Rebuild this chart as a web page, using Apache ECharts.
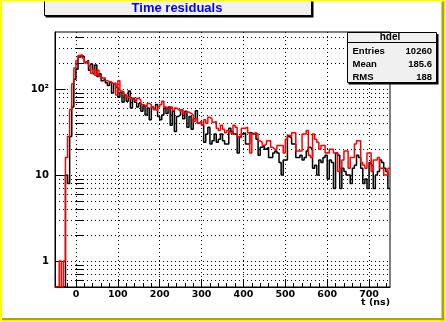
<!DOCTYPE html>
<html>
<head>
    <meta charset="utf-8">
    <title>Time residuals</title>
    <style type="text/css">
        html, body { margin: 0; padding: 0; }
        #main { width: 446px; height: 322px; }
    </style>
</head>
<body>
<div id="main"></div>
<script type="text/javascript" src="https://cdn.jsdelivr.net/npm/echarts@6/dist/echarts.min.js"></script>
<script type="text/javascript">
    // histogram binning: 160 bins of 5 ns from -50 to 750
    var binLow = -50;
    var binWidth = 5;

    // black histogram, counts per bin
    var black = [
        0, 0, 0, 0, 0, 10, 8, 28, 62, 130, 170, 235, 245, 238, 205, 215, 165, 195, 150, 190,
        140, 150, 125, 130, 118, 110, 120, 90, 115, 105, 80, 92, 70, 85, 72, 95, 60, 78, 70, 62,
        68, 55, 64, 50, 60, 44, 62, 58, 66, 48, 44, 50, 60, 52, 62, 38, 55, 32, 48, 50,
        57, 45, 55, 36, 48, 34, 45, 56, 40, 42, 38, 24, 30, 36, 23, 25, 30, 24, 26, 30,
        25, 23, 23, 35, 32, 30, 30, 18, 28, 30, 31, 23, 23, 31, 30, 31, 26, 17, 21, 22,
        20, 21, 16, 16, 18, 19, 18, 14, 10, 15, 15, 28, 27, 23, 23, 16, 16, 17, 15, 16,
        19, 21, 20, 12, 13, 10, 15, 14, 16, 17, 9, 15, 14, 7, 18, 17, 7, 12, 11, 10,
        10, 8, 12, 13, 17, 16, 12, 8, 9, 7, 14, 13, 7, 10, 11, 15, 14, 12, 11, 7
    ];

    // red histogram, counts per bin
    var red = [
        0, 0, 1, 0, 1, 16, 28, 58, 115, 175, 215, 245, 250, 228, 200, 210, 185, 153, 170, 145,
        165, 140, 133, 135, 125, 122, 120, 115, 118, 85, 125, 95, 92, 86, 80, 84, 77, 75, 73, 78,
        75, 66, 65, 62, 68, 66, 62, 58, 56, 62, 66, 72, 62, 60, 58, 62, 56, 60, 58, 55,
        58, 52, 54, 54, 52, 50, 42, 45, 40, 42, 38, 44, 40, 47, 45, 41, 42, 35, 33, 38,
        34, 31, 33, 31, 30, 38, 36, 28, 27, 35, 35, 36, 31, 18, 30, 31, 30, 25, 24, 22,
        23, 25, 25, 21, 20, 20, 22, 22, 22, 18, 26, 29, 28, 31, 31, 19, 19, 19, 30, 30,
        33, 17, 16, 30, 26, 24, 20, 22, 22, 18, 18, 20, 20, 18, 18, 11, 12, 15, 19, 19,
        12, 16, 16, 23, 25, 25, 14, 13, 12, 18, 18, 11, 15, 15, 16, 12, 12, 10, 10, 12
    ];

    var xMin = -50, xMax = 750;
    var yMin = 0.5, yMax = 460;
    var xMajor = [0, 100, 200, 300, 400, 500, 600, 700];
    var xMinor = [];
    for (var t = -40; t < xMax; t += 20) {
        if (t % 100 !== 0) xMinor.push(t);
    }
    var yMajor = [1, 10, 100];
    var yMinor = [0.6, 0.7, 0.8, 0.9, 2, 3, 4, 5, 6, 7, 8, 9,
        20, 30, 40, 50, 60, 70, 80, 90, 200, 300, 400];

    var statLabels = ['Entries', 'Mean', 'RMS'];
    var statValues = ['10260', '185.6', '188'];

    // bin contents -> step points (empty bins drop to the frame bottom)
    function toSteps(arr) {
        var res = [];
        for (var i = 0; i < arr.length; i++) {
            res.push([binLow + i * binWidth, arr[i] > 0 ? arr[i] : yMin]);
        }
        res.push([binLow + arr.length * binWidth, arr[arr.length - 1] > 0 ? arr[arr.length - 1] : yMin]);
        return res;
    }

    var axisFont = {fontFamily: 'DejaVu Sans', fontWeight: 'bold', fontSize: 9.5, color: '#000'};
    var gridDots = {color: '#000', width: 1, type: [1, 3]};

    var myChart = echarts.init(document.getElementById('main'), null, {renderer: 'canvas'});

    var graphics = [
        // canvas border
        {type: 'rect', shape: {x: 441.5, y: 0, width: 3, height: 321}, style: {fill: '#a8a800'}, z: 100},
        {type: 'rect', shape: {x: 0, y: 318, width: 445, height: 2.5}, style: {fill: '#a8a800'}, z: 100},
        {type: 'rect', shape: {x: 0, y: 0, width: 2, height: 322}, style: {fill: '#ffff00'}, z: 101},
        {type: 'rect', shape: {x: 0, y: 0, width: 446, height: 1.5}, style: {fill: '#ffff00'}, z: 101},
        {type: 'rect', shape: {x: 444.5, y: 0, width: 2, height: 322}, style: {fill: '#ffff00'}, z: 101},
        {type: 'rect', shape: {x: 0, y: 320.5, width: 446, height: 2}, style: {fill: '#ffff00'}, z: 101},
        // title box
        {type: 'rect', shape: {x: 45.5, y: 0.5, width: 268, height: 17}, style: {fill: '#000'}, z: 90},
        {type: 'rect', shape: {x: 44.5, y: -1.5, width: 267, height: 17}, style: {fill: '#f0f0f0', stroke: '#000', lineWidth: 1}, z: 91},
        {type: 'text', x: 177, y: 8.5, style: {text: 'Time residuals', fill: '#0000ff',
            fontFamily: 'Liberation Sans', fontWeight: 'bold', fontSize: 13, align: 'center', verticalAlign: 'middle'}, z: 92},
        // stats box
        {type: 'rect', shape: {x: 348.5, y: 34, width: 90, height: 50.5}, style: {fill: '#000'}, z: 90},
        {type: 'rect', shape: {x: 347.5, y: 32.5, width: 89, height: 50}, style: {fill: '#f0f0f0', stroke: '#000', lineWidth: 1}, z: 91},
        {type: 'line', shape: {x1: 347.5, y1: 42.5, x2: 436.5, y2: 42.5}, style: {stroke: '#000', lineWidth: 1}, z: 92},
        {type: 'text', x: 390, y: 37.5, style: {text: 'hdel', fill: '#000',
            fontFamily: 'Liberation Sans', fontWeight: 'bold', fontSize: 10, align: 'center', verticalAlign: 'middle'}, z: 92}
    ];
    for (var k = 0; k < statLabels.length; k++) {
        graphics.push({type: 'text', x: 352.5, y: 51 + k * 13.3, style: {text: statLabels[k], fill: '#000',
            fontFamily: 'Liberation Sans', fontWeight: 'bold', fontSize: 9.5, align: 'left', verticalAlign: 'middle'}, z: 92});
        graphics.push({type: 'text', x: 432, y: 51 + k * 13.3, style: {text: statValues[k], fill: '#000',
            fontFamily: 'Liberation Sans', fontWeight: 'bold', fontSize: 9.5, align: 'right', verticalAlign: 'middle'}, z: 92});
    }
    // axis title
    graphics.push({type: 'text', x: 390, y: 303, style: {text: 't (ns)', fill: '#000',
        fontFamily: 'DejaVu Sans', fontWeight: 'bold', fontSize: 9.5, align: 'right', verticalAlign: 'middle'}, z: 92});

    var option = {
        animation: false,
        backgroundColor: '#ffffff',
        grid: {
            left: 55, top: 32, width: 335, height: 255,
            show: true, backgroundColor: '#ffffff', borderColor: '#000', borderWidth: 1
        },
        xAxis: [{
            type: 'value', min: xMin, max: xMax,
            axisLine: {show: true, onZero: false, lineStyle: {color: '#000', width: 1}},
            axisTick: {show: true, inside: true, length: 8, customValues: xMajor, lineStyle: {color: '#000'}},
            axisLabel: Object.assign({show: true, margin: 3, customValues: xMajor}, axisFont),
            splitLine: {show: true, lineStyle: gridDots}
        }, {
            type: 'value', min: xMin, max: xMax, position: 'bottom',
            axisLine: {show: false},
            axisTick: {show: true, inside: true, length: 4, customValues: xMinor, lineStyle: {color: '#000'}},
            axisLabel: {show: false},
            splitLine: {show: false}
        }],
        yAxis: [{
            type: 'log', logBase: 10, min: yMin, max: yMax, position: 'left',
            axisLine: {show: true, onZero: false, lineStyle: {color: '#000', width: 1}},
            axisTick: {show: true, inside: true, length: 10.5, customValues: yMajor, lineStyle: {color: '#000'}},
            axisLabel: Object.assign({
                show: true, margin: 6, customValues: yMajor,
                formatter: function (v) {
                    return v >= 100 ? '10\u00B2' : String(Math.round(v));
                }
            }, axisFont, {fontSize: 10}),
            splitLine: {show: true, lineStyle: gridDots}
        }, {
            type: 'log', logBase: 10, min: yMin, max: yMax, position: 'left',
            axisLine: {show: false},
            axisTick: {show: true, inside: true, length: 7.5, customValues: yMinor, lineStyle: {color: '#000'}},
            axisLabel: {show: false},
            splitLine: {show: true, lineStyle: gridDots}
        }],
        series: [{
            name: 'black', type: 'line', step: 'end', showSymbol: false, symbol: 'none',
            xAxisIndex: 0, yAxisIndex: 0,
            data: toSteps(black),
            lineStyle: {color: '#000000', width: 1.5},
            z: 3
        }, {
            name: 'red', type: 'line', step: 'end', showSymbol: false, symbol: 'none',
            xAxisIndex: 0, yAxisIndex: 0,
            data: toSteps(red),
            lineStyle: {color: '#ff0000', width: 1.5},
            z: 4
        }],
        graphic: graphics
    };

    myChart.setOption(option);
</script>
</body>
</html>
